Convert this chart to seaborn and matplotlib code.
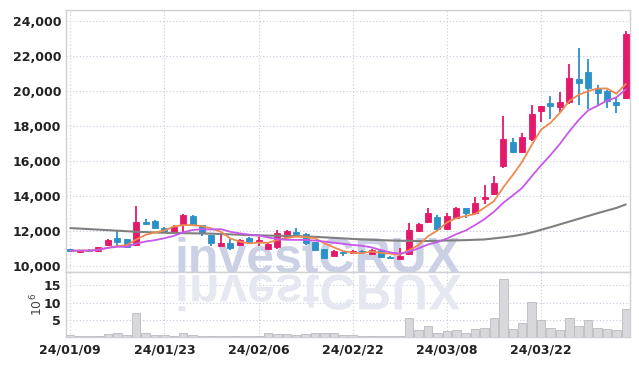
import matplotlib
matplotlib.use("Agg")
import matplotlib.pyplot as plt
import seaborn as sns
import numpy as np
import pandas as pd
from matplotlib.textpath import TextPath
from matplotlib.patches import PathPatch
from matplotlib.font_manager import FontProperties
from matplotlib.transforms import Affine2D, IdentityTransform

# ---------------- data ----------------
dates = pd.bdate_range("2024-01-09", "2024-04-04", freq="C",
                       holidays=["2024-02-09", "2024-02-12", "2024-03-01"])
date_labels = [d.strftime("%y/%m/%d") for d in dates]

opens = [10950, 10770, 10920, 10820, 11180, 11600, 11510, 11180, 12500, 12550,
         12140, 11950, 12330, 12840, 12330, 11750, 11140, 11280, 11180, 11570,
         11370, 10950, 11090, 11660, 11900, 11800, 11340, 10950, 10570, 10800,
         10740, 10840, 10650, 10900, 10510, 10400, 10650, 12000, 12510, 12800,
         12100, 12710, 13280, 13030, 13810, 14100, 15700, 17090, 16510, 17220,
         18860, 19280, 19050, 19380, 20650, 21050, 20130, 19980, 19370, 19600]
highs = [10980, 10900, 10960, 11080, 11550, 12040, 11520, 13430, 12650, 12600,
         12200, 12300, 12950, 12920, 12350, 11780, 11800, 11550, 11550, 11650,
         11650, 11300, 12050, 12050, 12150, 11850, 11350, 10980, 10880, 10820,
         10880, 10900, 10950, 10920, 10560, 11000, 12460, 12450, 13300, 12900,
         13000, 13350, 13320, 13950, 14600, 15100, 18550, 17300, 17600, 19200,
         19150, 19700, 19950, 21550, 22420, 21800, 20300, 20050, 19600, 23430]
lows = [10780, 10750, 10780, 10800, 11150, 11100, 11050, 11150, 12350, 12100,
        11900, 11900, 11800, 12350, 11700, 11100, 11100, 10900, 11150, 11300,
        11100, 10900, 10950, 11600, 11700, 11200, 10850, 10400, 10550, 10550,
        10700, 10700, 10600, 10450, 10420, 10380, 10600, 11950, 12450, 12050,
        12050, 12650, 12730, 12980, 13550, 14050, 15600, 16450, 16450, 17100,
        18200, 18400, 18800, 19250, 19200, 18950, 19200, 19000, 18750, 19550]
closes = [10850, 10880, 10860, 11050, 11470, 11370, 11090, 12500, 12380, 12140,
          11950, 12230, 12900, 12380, 11850, 11280, 11280, 11000, 11470, 11370,
          11470, 11220, 11850, 12000, 11800, 11280, 10900, 10420, 10840, 10710,
          10840, 10760, 10900, 10480, 10460, 10550, 12040, 12380, 12990, 12100,
          12840, 13280, 12990, 13570, 13910, 14710, 17220, 16510, 17340, 18670,
          19130, 19140, 19380, 20710, 20460, 20170, 19880, 19430, 19200, 23240]
ma_long = [12150, 12120, 12090, 12060, 12030, 12000, 11970, 11940, 11920, 11900,
           11880, 11870, 11860, 11850, 11840, 11830, 11810, 11790, 11770, 11750,
           11740, 11720, 11710, 11700, 11690, 11670, 11650, 11620, 11590, 11560,
           11530, 11500, 11480, 11460, 11440, 11430, 11420, 11410, 11410, 11420,
           11440, 11450, 11460, 11480, 11500, 11560, 11620, 11690, 11780, 11900,
           12050, 12200, 12360, 12520, 12680, 12840, 13000, 13150, 13300, 13500]
volume_m = [0.6, 0.3, 0.2, 0.3, 0.85, 1.1, 0.5, 7.0, 1.1, 0.7,
            0.5, 0.35, 1.1, 0.5, 0.4, 0.4, 0.4, 0.4, 0.4, 0.35,
            0.3, 1.3, 0.8, 0.8, 0.7, 1.0, 1.1, 1.3, 1.1, 0.7,
            0.5, 0.3, 0.3, 0.3, 0.3, 0.3, 5.6, 2.0, 3.2, 1.3,
            1.6, 1.9, 1.05, 2.2, 2.5, 5.6, 17.0, 2.2, 4.0, 10.2,
            4.9, 2.5, 1.9, 5.6, 3.3, 4.9, 2.5, 2.2, 1.9, 8.2]
price_ticks = [10000, 12000, 14000, 16000, 18000, 20000, 22000, 24000]
vol_ticks = [5, 10, 15]

# ---------------- styling ----------------
sns.set_theme(style="white")
plt.rcParams["font.family"] = ["Liberation Sans Narrow", "DejaVu Sans"]

RED = "#e5196b"
BLUE = "#2b91c8"
ORANGE = "#ef8a4f"
PURPLE = "#c858ea"
GREY = "#7f7f7f"
GRID = "#c6cadf"
SPINE = "#d0d0d6"

df = pd.DataFrame({"idx": np.arange(len(closes)), "open": opens, "high": highs,
                   "low": lows, "close": closes, "ma_long": ma_long,
                   "vol": volume_m})
df["ma5"] = df["close"].rolling(5, min_periods=1).mean()
df["ma10"] = df["close"].rolling(10, min_periods=1).mean()

W, H = 639, 366
fig = plt.figure(figsize=(W / 100, H / 100), dpi=100)
ax = fig.add_axes([66 / W, 1 - 272 / H, (630 - 66) / W, (272 - 10) / H])
axv = fig.add_axes([66 / W, 1 - 337 / H, (630 - 66) / W, (337 - 272) / H], sharex=ax)

for a in (ax, axv):
    a.set_facecolor("white")
    for s in a.spines.values():
        s.set_color(SPINE)
        s.set_linewidth(1.0)
    a.grid(True, color=GRID, linestyle=(0, (1, 2)), linewidth=0.8)
    a.set_axisbelow(True)
    a.tick_params(length=0, labelsize=9, colors="#222222")

# watermark (text behind the marks)
ax.text(175 / W, 1 - 273 / H, "investCRUX", transform=fig.transFigure,
        fontsize=36, fontweight="bold", family=["Liberation Sans", "DejaVu Sans"],
        color="#cbd0e4", zorder=0.6, clip_on=False, va="baseline", ha="left")
tp = TextPath((0, 0), "investCRUX", size=50,
              prop=FontProperties(family=["Liberation Sans", "DejaVu Sans"], weight="bold"))
refl = PathPatch(tp, transform=Affine2D().scale(1, -1).translate(175, H - 275) + IdentityTransform(),
                 facecolor="#e6e8f1", edgecolor="none", zorder=0.6, clip_on=False)
axv.add_artist(refl)

# candles
up = df["close"] >= df["open"]
colors = np.where(up, RED, BLUE)
body_low = np.minimum(df["open"], df["close"])
body_h = np.maximum(np.abs(df["close"] - df["open"]), 40)
ax.vlines(df["idx"], df["low"], df["high"], colors=colors, linewidth=1.3, zorder=3)
ax.bar(df["idx"], body_h, bottom=body_low, width=0.64, color=colors,
       edgecolor=colors, linewidth=0.6, zorder=4)

# moving averages
sns.lineplot(data=df, x="idx", y="ma_long", ax=ax, color=GREY, linewidth=1.5, zorder=5)
sns.lineplot(data=df, x="idx", y="ma5", ax=ax, color=ORANGE, linewidth=1.3, zorder=6)
sns.lineplot(data=df, x="idx", y="ma10", ax=ax, color=PURPLE, linewidth=1.3, zorder=6)

ax.set_ylim(9640, 24610)
ax.set_xlim(-0.45, 59.45)
ax.set_yticks(price_ticks)
ax.set_yticklabels([f"{v:,}" for v in price_ticks], fontweight="bold")
ax.set_xlabel("")
ax.set_ylabel("")
plt.setp(ax.get_xticklabels(), visible=False)

# volume
axv.bar(df["idx"], df["vol"], width=0.9, color="#d8d8dc", edgecolor="#b9b9bf",
        linewidth=0.6, zorder=3)
axv.set_ylim(0, 18.9)
axv.set_yticks(vol_ticks)
axv.set_yticklabels([str(v) for v in vol_ticks], fontweight="bold")
tick_idx = list(range(0, len(dates), 10))
axv.set_xticks(tick_idx)
axv.set_xticklabels([date_labels[i] for i in tick_idx], fontweight="bold")
axv.tick_params(axis="x", pad=5)
axv.set_ylabel("$10^6$", fontsize=9, color="#444444", labelpad=-1)
axv.set_xlabel("")

fig.savefig("out.png", dpi=100)
